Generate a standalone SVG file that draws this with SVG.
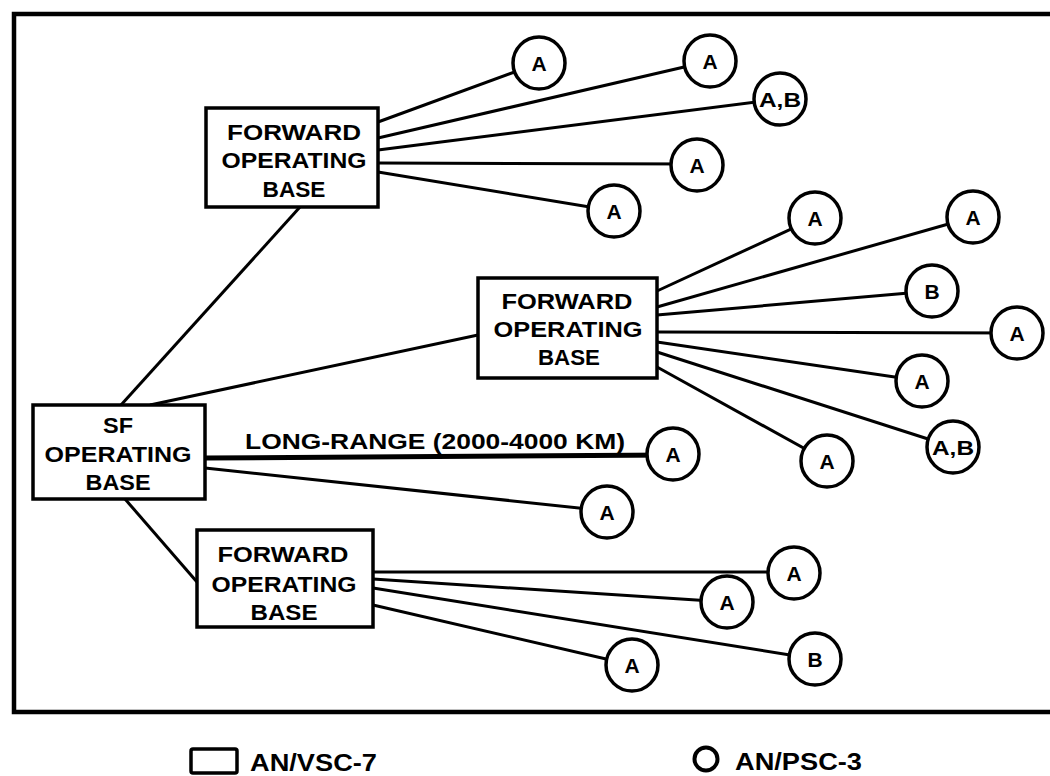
<svg xmlns="http://www.w3.org/2000/svg" width="1050" height="776" viewBox="0 0 1050 776">
<style>
.frame{fill:none;stroke:#000;stroke-width:4.5}
.box{fill:#fff;stroke:#000;stroke-width:3.5}
.c{fill:#fff;stroke:#000;stroke-width:3.5}
.ln{stroke:#000;stroke-width:3;fill:none}
.thick{stroke:#000;stroke-width:5;fill:none}
.t{font-family:"Liberation Sans",Arial,sans-serif;font-weight:bold;font-size:22px;fill:#000;text-anchor:middle}
.ct{font-family:"Liberation Sans",Arial,sans-serif;font-weight:bold;font-size:21px;fill:#000;text-anchor:middle}
.lg{font-family:"Liberation Sans",Arial,sans-serif;font-weight:bold;font-size:23px;fill:#000}
</style>
<rect width="1050" height="776" fill="#fff"/>
<path class="frame" d="M1050,14 H14 V712 H1050"/>
<g id="connectors">
  <!-- top FOB -->
  <line class="ln" x1="378" y1="122" x2="539" y2="63"/>
  <line class="ln" x1="378" y1="138" x2="710" y2="61"/>
  <line class="ln" x1="378" y1="150" x2="780" y2="99"/>
  <line class="ln" x1="378" y1="163" x2="697" y2="164"/>
  <line class="ln" x1="378" y1="172" x2="614" y2="211"/>
  <line class="ln" x1="300" y1="207" x2="121" y2="405"/>
  <!-- SF to middle FOB -->
  <line class="ln" x1="150" y1="405" x2="478" y2="335"/>
  <!-- middle FOB -->
  <line class="ln" x1="657" y1="291" x2="815" y2="218"/>
  <line class="ln" x1="657" y1="307" x2="973" y2="217"/>
  <line class="ln" x1="657" y1="315" x2="932" y2="291"/>
  <line class="ln" x1="657" y1="332" x2="1017" y2="333"/>
  <line class="ln" x1="657" y1="342" x2="922" y2="381"/>
  <line class="ln" x1="657" y1="352" x2="953" y2="447"/>
  <line class="ln" x1="657" y1="367" x2="827" y2="461"/>
  <!-- SF -->
  <line class="thick" x1="205" y1="458" x2="673" y2="455"/>
  <line class="ln" x1="205" y1="468" x2="607" y2="511"/>
  <line class="ln" x1="125" y1="499" x2="197" y2="582"/>
  <!-- bottom FOB -->
  <line class="ln" x1="373" y1="572" x2="794" y2="572"/>
  <line class="ln" x1="373" y1="579" x2="727" y2="602"/>
  <line class="ln" x1="373" y1="588" x2="815" y2="659"/>
  <line class="ln" x1="373" y1="605" x2="632" y2="665"/>
</g>
<text class="t" x="435" y="449" textLength="380" lengthAdjust="spacingAndGlyphs">LONG-RANGE (2000-4000 KM)</text>
<g id="fob-top">
  <rect class="box" x="206" y="108" width="172" height="99"/>
  <text class="t" x="294" y="140" textLength="134" lengthAdjust="spacingAndGlyphs">FORWARD</text>
  <text class="t" x="294" y="168" textLength="145" lengthAdjust="spacingAndGlyphs">OPERATING</text>
  <text class="t" x="294" y="197" textLength="63" lengthAdjust="spacingAndGlyphs">BASE</text>
</g>
<g id="fob-mid">
  <rect class="box" x="478" y="278" width="179" height="100"/>
  <text class="t" x="567" y="309" textLength="131" lengthAdjust="spacingAndGlyphs">FORWARD</text>
  <text class="t" x="568" y="337" textLength="149" lengthAdjust="spacingAndGlyphs">OPERATING</text>
  <text class="t" x="569" y="365" textLength="62" lengthAdjust="spacingAndGlyphs">BASE</text>
</g>
<g id="sf-base">
  <rect class="box" x="33" y="405" width="172" height="94"/>
  <text class="t" x="118" y="433" textLength="30" lengthAdjust="spacingAndGlyphs">SF</text>
  <text class="t" x="118" y="462" textLength="147" lengthAdjust="spacingAndGlyphs">OPERATING</text>
  <text class="t" x="118" y="490" textLength="65" lengthAdjust="spacingAndGlyphs">BASE</text>
</g>
<g id="fob-bottom">
  <rect class="box" x="197" y="530" width="176" height="97"/>
  <text class="t" x="283" y="562" textLength="131" lengthAdjust="spacingAndGlyphs">FORWARD</text>
  <text class="t" x="284" y="592" textLength="145" lengthAdjust="spacingAndGlyphs">OPERATING</text>
  <text class="t" x="284" y="620" textLength="67" lengthAdjust="spacingAndGlyphs">BASE</text>
</g>
<g id="t1"><circle class="c" cx="539" cy="63" r="26"/><text class="ct" x="539" y="71">A</text></g>
<g id="t2"><circle class="c" cx="710" cy="61" r="26"/><text class="ct" x="710" y="69">A</text></g>
<g id="t3"><circle class="c" cx="780" cy="99" r="26"/><text class="ct" x="780" y="107" textLength="42" lengthAdjust="spacingAndGlyphs">A,B</text></g>
<g id="t4"><circle class="c" cx="697" cy="165" r="26"/><text class="ct" x="697" y="173">A</text></g>
<g id="t5"><circle class="c" cx="614" cy="211" r="26"/><text class="ct" x="614" y="219">A</text></g>
<g id="m1"><circle class="c" cx="815" cy="218" r="26"/><text class="ct" x="815" y="226">A</text></g>
<g id="m2"><circle class="c" cx="973" cy="217" r="26"/><text class="ct" x="973" y="225">A</text></g>
<g id="m3"><circle class="c" cx="932" cy="291" r="26"/><text class="ct" x="932" y="299">B</text></g>
<g id="m4"><circle class="c" cx="1017" cy="333" r="26"/><text class="ct" x="1017" y="341">A</text></g>
<g id="m5"><circle class="c" cx="922" cy="381" r="26"/><text class="ct" x="922" y="389">A</text></g>
<g id="m6"><circle class="c" cx="953" cy="447" r="26"/><text class="ct" x="953" y="455" textLength="42" lengthAdjust="spacingAndGlyphs">A,B</text></g>
<g id="m7"><circle class="c" cx="827" cy="461" r="26"/><text class="ct" x="827" y="469">A</text></g>
<g id="s1"><circle class="c" cx="673" cy="454" r="26"/><text class="ct" x="673" y="462">A</text></g>
<g id="s2"><circle class="c" cx="607" cy="512" r="26"/><text class="ct" x="607" y="520">A</text></g>
<g id="b1"><circle class="c" cx="794" cy="573" r="26"/><text class="ct" x="794" y="581">A</text></g>
<g id="b2"><circle class="c" cx="727" cy="602" r="26"/><text class="ct" x="727" y="610">A</text></g>
<g id="b3"><circle class="c" cx="815" cy="659" r="26"/><text class="ct" x="815" y="667">B</text></g>
<g id="b4"><circle class="c" cx="632" cy="665" r="26"/><text class="ct" x="632" y="673">A</text></g>
<g id="legend">
  <rect x="191" y="749" width="46" height="24" rx="2" fill="#fff" stroke="#000" stroke-width="3.5"/>
  <text class="lg" x="250" y="771" textLength="127" lengthAdjust="spacingAndGlyphs">AN/VSC-7</text>
  <circle cx="706" cy="759" r="11.5" fill="#fff" stroke="#000" stroke-width="4"/>
  <text class="lg" x="735" y="770" textLength="127" lengthAdjust="spacingAndGlyphs">AN/PSC-3</text>
</g>
</svg>
